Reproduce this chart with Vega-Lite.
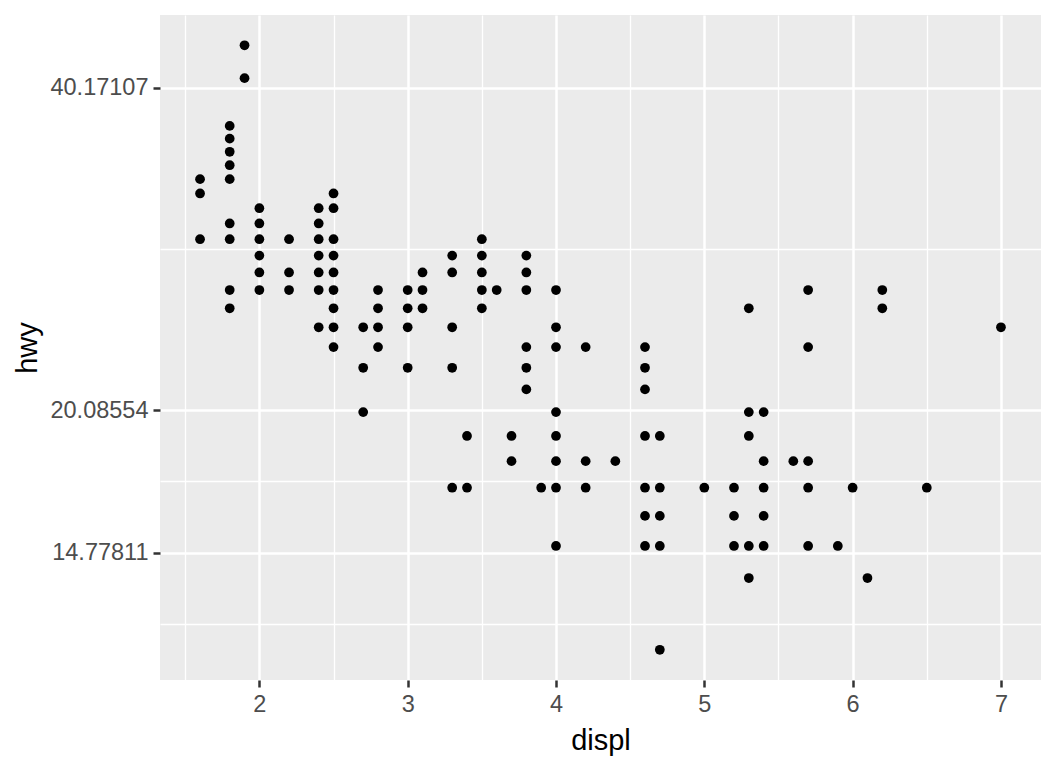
{
  "$schema": "https://vega.github.io/schema/vega-lite/v6.json",
  "width": 881,
  "height": 665,
  "autosize": {"type": "none"},
  "padding": {"left": 160, "top": 15, "right": 15, "bottom": 88},
  "background": "white",
  "config": {
    "view": {"fill": "#EBEBEB", "stroke": null},
    "font": "Liberation Sans"
  },
  "data": {
    "values": [
      {"displ": 1.6, "hwy": 33}, {"displ": 1.6, "hwy": 32}, {"displ": 1.6, "hwy": 29},
      {"displ": 1.8, "hwy": 37}, {"displ": 1.8, "hwy": 36}, {"displ": 1.8, "hwy": 35}, {"displ": 1.8, "hwy": 34}, {"displ": 1.8, "hwy": 33}, {"displ": 1.8, "hwy": 30}, {"displ": 1.8, "hwy": 29}, {"displ": 1.8, "hwy": 26}, {"displ": 1.8, "hwy": 25},
      {"displ": 1.9, "hwy": 44}, {"displ": 1.9, "hwy": 41},
      {"displ": 2.0, "hwy": 31}, {"displ": 2.0, "hwy": 30}, {"displ": 2.0, "hwy": 29}, {"displ": 2.0, "hwy": 28}, {"displ": 2.0, "hwy": 27}, {"displ": 2.0, "hwy": 26},
      {"displ": 2.2, "hwy": 29}, {"displ": 2.2, "hwy": 27}, {"displ": 2.2, "hwy": 26},
      {"displ": 2.4, "hwy": 31}, {"displ": 2.4, "hwy": 30}, {"displ": 2.4, "hwy": 29}, {"displ": 2.4, "hwy": 28}, {"displ": 2.4, "hwy": 27}, {"displ": 2.4, "hwy": 26}, {"displ": 2.4, "hwy": 24},
      {"displ": 2.5, "hwy": 32}, {"displ": 2.5, "hwy": 31}, {"displ": 2.5, "hwy": 29}, {"displ": 2.5, "hwy": 28}, {"displ": 2.5, "hwy": 27}, {"displ": 2.5, "hwy": 26}, {"displ": 2.5, "hwy": 25}, {"displ": 2.5, "hwy": 24}, {"displ": 2.5, "hwy": 23},
      {"displ": 2.7, "hwy": 24}, {"displ": 2.7, "hwy": 22}, {"displ": 2.7, "hwy": 20},
      {"displ": 2.8, "hwy": 26}, {"displ": 2.8, "hwy": 25}, {"displ": 2.8, "hwy": 24}, {"displ": 2.8, "hwy": 23},
      {"displ": 3.0, "hwy": 26}, {"displ": 3.0, "hwy": 25}, {"displ": 3.0, "hwy": 24}, {"displ": 3.0, "hwy": 22},
      {"displ": 3.1, "hwy": 27}, {"displ": 3.1, "hwy": 26}, {"displ": 3.1, "hwy": 25},
      {"displ": 3.3, "hwy": 28}, {"displ": 3.3, "hwy": 27}, {"displ": 3.3, "hwy": 24}, {"displ": 3.3, "hwy": 22}, {"displ": 3.3, "hwy": 17},
      {"displ": 3.4, "hwy": 19}, {"displ": 3.4, "hwy": 17},
      {"displ": 3.5, "hwy": 29}, {"displ": 3.5, "hwy": 28}, {"displ": 3.5, "hwy": 27}, {"displ": 3.5, "hwy": 26}, {"displ": 3.5, "hwy": 25},
      {"displ": 3.6, "hwy": 26},
      {"displ": 3.7, "hwy": 19}, {"displ": 3.7, "hwy": 18},
      {"displ": 3.8, "hwy": 28}, {"displ": 3.8, "hwy": 27}, {"displ": 3.8, "hwy": 26}, {"displ": 3.8, "hwy": 23}, {"displ": 3.8, "hwy": 22}, {"displ": 3.8, "hwy": 21},
      {"displ": 3.9, "hwy": 17},
      {"displ": 4.0, "hwy": 26}, {"displ": 4.0, "hwy": 24}, {"displ": 4.0, "hwy": 23}, {"displ": 4.0, "hwy": 20}, {"displ": 4.0, "hwy": 19}, {"displ": 4.0, "hwy": 18}, {"displ": 4.0, "hwy": 17}, {"displ": 4.0, "hwy": 15},
      {"displ": 4.2, "hwy": 23}, {"displ": 4.2, "hwy": 18}, {"displ": 4.2, "hwy": 17},
      {"displ": 4.4, "hwy": 18},
      {"displ": 4.6, "hwy": 23}, {"displ": 4.6, "hwy": 22}, {"displ": 4.6, "hwy": 21}, {"displ": 4.6, "hwy": 19}, {"displ": 4.6, "hwy": 17}, {"displ": 4.6, "hwy": 16}, {"displ": 4.6, "hwy": 15},
      {"displ": 4.7, "hwy": 19}, {"displ": 4.7, "hwy": 17}, {"displ": 4.7, "hwy": 16}, {"displ": 4.7, "hwy": 15}, {"displ": 4.7, "hwy": 12},
      {"displ": 5.0, "hwy": 17},
      {"displ": 5.2, "hwy": 17}, {"displ": 5.2, "hwy": 16}, {"displ": 5.2, "hwy": 15},
      {"displ": 5.3, "hwy": 25}, {"displ": 5.3, "hwy": 20}, {"displ": 5.3, "hwy": 19}, {"displ": 5.3, "hwy": 15}, {"displ": 5.3, "hwy": 14},
      {"displ": 5.4, "hwy": 20}, {"displ": 5.4, "hwy": 18}, {"displ": 5.4, "hwy": 17}, {"displ": 5.4, "hwy": 16}, {"displ": 5.4, "hwy": 15},
      {"displ": 5.6, "hwy": 18},
      {"displ": 5.7, "hwy": 26}, {"displ": 5.7, "hwy": 23}, {"displ": 5.7, "hwy": 18}, {"displ": 5.7, "hwy": 17}, {"displ": 5.7, "hwy": 15},
      {"displ": 5.9, "hwy": 15},
      {"displ": 6.0, "hwy": 17},
      {"displ": 6.1, "hwy": 14},
      {"displ": 6.2, "hwy": 26}, {"displ": 6.2, "hwy": 25},
      {"displ": 6.5, "hwy": 17},
      {"displ": 7.0, "hwy": 24}
    ]
  },
  "mark": {"type": "circle", "color": "black", "opacity": 1, "size": 95},
  "encoding": {
    "x": {
      "field": "displ",
      "type": "quantitative",
      "scale": {"domain": [1.33, 7.27], "nice": false, "zero": false},
      "axis": {
        "title": "displ",
        "titleFontSize": 29,
        "titleFontWeight": "normal",
        "titleColor": "black",
        "titlePadding": 11,
        "values": [1.5, 2, 2.5, 3, 3.5, 4, 4.5, 5, 5.5, 6, 6.5, 7],
        "labelExpr": "datum.value % 1 == 0 ? format(datum.value, 'd') : ''",
        "labelFontSize": 23.5,
        "labelColor": "#4D4D4D",
        "labelPadding": 5,
        "labelFlush": false,
        "domain": false,
        "grid": true,
        "gridColor": "white",
        "gridWidth": {"condition": {"test": "datum.value % 1 == 0", "value": 2.5}, "value": 1.3},
        "tickColor": "#333333",
        "tickWidth": 2.5,
        "tickSize": 7,
        "tickOpacity": {"condition": {"test": "datum.value % 1 == 0", "value": 1}, "value": 0}
      }
    },
    "y": {
      "field": "hwy",
      "type": "quantitative",
      "scale": {"type": "log", "domain": [11.245, 46.96], "nice": false, "zero": false},
      "axis": {
        "title": "hwy",
        "titleFontSize": 29,
        "titleFontWeight": "normal",
        "titleColor": "black",
        "titlePadding": 7,
        "values": [12.676, 14.77811, 17.229, 20.08554, 28.404, 40.17107],
        "labelExpr": "(datum.value == 14.77811 || datum.value == 20.08554 || datum.value == 40.17107) ? format(datum.value, '.7~r') : ''",
        "labelFontSize": 23.5,
        "labelColor": "#4D4D4D",
        "labelPadding": 5,
        "labelFlush": false,
        "domain": false,
        "grid": true,
        "gridColor": "white",
        "gridWidth": {"condition": {"test": "datum.value == 14.77811 || datum.value == 20.08554 || datum.value == 40.17107", "value": 2.5}, "value": 1.3},
        "tickColor": "#333333",
        "tickWidth": 2.5,
        "tickSize": 7,
        "tickOpacity": {"condition": {"test": "datum.value == 14.77811 || datum.value == 20.08554 || datum.value == 40.17107", "value": 1}, "value": 0}
      }
    }
  }
}
